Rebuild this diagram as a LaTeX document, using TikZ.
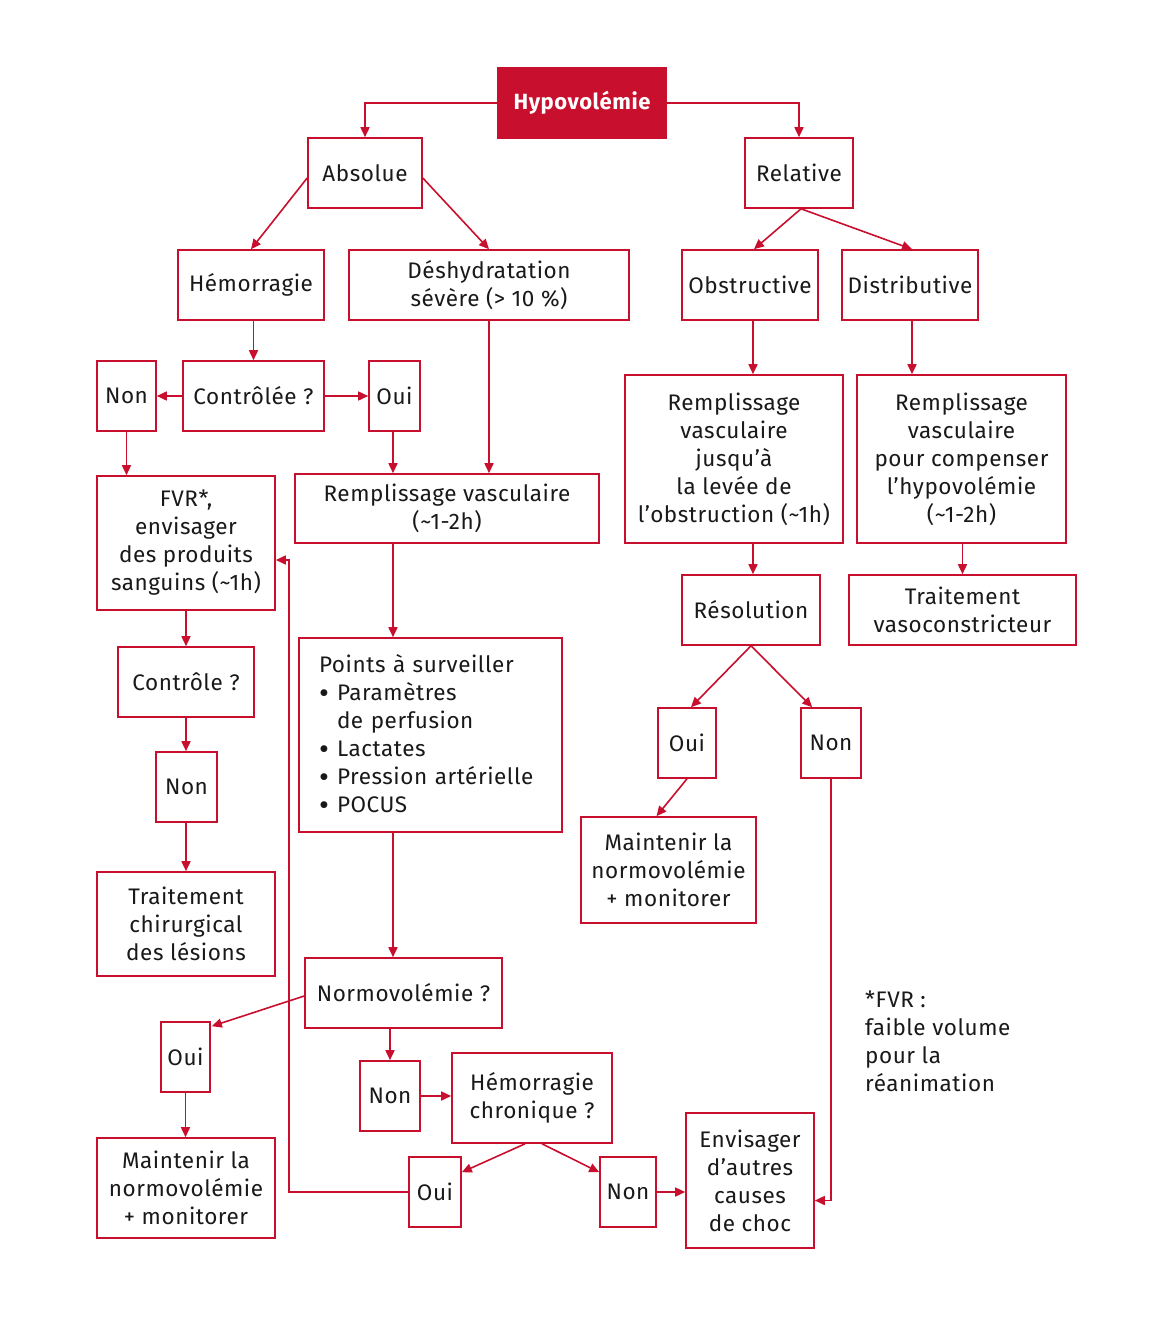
\documentclass[tikz,border=0pt]{standalone}
\usepackage{fontspec}
\usepackage{graphicx}
\setmainfont{Fira Sans}[LetterSpace=2.5]
\usetikzlibrary{arrows.meta,calc}
\definecolor{dred}{RGB}{200,16,46}
\definecolor{txt}{RGB}{25,25,25}
\newcommand\mybul{\makebox[18pt][l]{\raisebox{-2.2pt}{\scalebox{1.35}{\textbullet}}}}
\begin{document}
\begin{tikzpicture}[x=1pt,y=-1pt,
  every node/.style={font=\fontsize{22.5}{28}\selectfont, text=txt},
  box/.style={draw=dred, line width=1.6pt, fill=white, align=center, inner sep=0pt},
  arr/.style={draw=dred, line width=1.6pt, -{Triangle[length=10pt,width=9pt]}},
  ln/.style={draw=dred, line width=1.6pt}]
\useasboundingbox[fill=white] (0,0) rectangle (1158,1320);
\newcommand\bx[6]{\node[box, minimum width=#4, minimum height=#5] (#1) at (#2,#3) {#6};}
% boxes
\node[box, fill=dred, minimum width=168, minimum height=70, text=white, font=\fontsize{22}{28}\selectfont\bfseries] (hypo) at (582,103) {Hypovolémie};
\bx{abs}{365}{173}{114}{70}{Absolue}
\bx{rel}{799}{173}{108}{70}{Relative}
\bx{hem}{251}{285}{146}{70}{Hémorragie}
\bx{desh}{489}{285}{280}{70}{Déshydratation\\sévère (> 10 \%)}
\bx{obs}{750}{285}{136}{70}{Obstructive}
\bx{dist}{910}{285}{136}{70}{Distributive}
\bx{non1}{126.5}{396}{59}{70}{Non}
\bx{ctrl}{253.5}{396}{141}{70}{Contrôlée ?}
\bx{oui1}{394.5}{396}{51}{70}{Oui}
\bx{fvr}{186}{543}{178}{134}{FVR*,\\envisager\\des produits\\sanguins (\textasciitilde1h)}
\bx{remp}{447}{508.5}{304}{69}{Remplissage vasculaire\\(\textasciitilde1-2h)}
\bx{rempo}{734}{459}{218}{168}{Remplissage\\vasculaire\\jusqu’à\\la levée de\\l’obstruction (\textasciitilde1h)}
\bx{rempc}{961.5}{459}{209}{168}{Remplissage\\vasculaire\\pour compenser\\l’hypovolémie\\(\textasciitilde1-2h)}
\bx{reso}{751}{610}{138}{70}{Résolution}
\bx{vaso}{962.5}{610}{227}{70}{Traitement\\vasoconstricteur}
\bx{ctrl2}{186}{682}{136}{70}{Contrôle ?}
\node[box, minimum width=263, minimum height=194, align=left, text width=223, inner xsep=20pt] (points) at (430.5,735) {Points à surveiller\\\mybul Paramètres\\\hspace*{18pt}de perfusion\\\mybul Lactates\\\mybul Pression artérielle\\\mybul POCUS};
\bx{oui2}{687}{743}{58}{70}{Oui}
\bx{non2}{831}{743}{60}{70}{Non}
\bx{non3}{186.5}{787}{61}{70}{Non}
\bx{maint1}{668.5}{870}{175}{106}{Maintenir la\\normovolémie\\+ monitorer}
\bx{chir}{186}{924}{178}{104}{Traitement\\chirurgical\\des lésions}
\bx{normo}{403.5}{993}{197}{70}{Normovolémie ?}
\bx{oui3}{185.5}{1057}{49}{70}{Oui}
\bx{non4}{390}{1096}{60}{70}{Non}
\bx{hemc}{532}{1098}{160}{90}{Hémorragie\\chronique ?}
\bx{maint2}{186}{1188}{178}{100}{Maintenir la\\normovolémie\\+ monitorer}
\bx{oui4}{435}{1192}{52}{70}{Oui}
\bx{non5}{628}{1192}{56}{70}{Non}
\bx{env}{750}{1180.5}{128}{135}{Envisager\\d’autres\\causes\\de choc}
\node[anchor=north west, align=left, inner sep=0pt] (foot) at (865,991) {*FVR :\\faible volume\\pour la\\réanimation};
% connectors
\draw[arr] (hypo.west) -| (abs.north);
\draw[arr] (hypo.east) -| (rel.north);
\draw[arr] ($(abs.west)+(0,5)$) -- (hem.north);
\draw[arr] ($(abs.east)+(0,5)$) -- (desh.north);
\draw[arr] ($(rel.south)+(2,0)$) -- ($(obs.north)+(4,0)$);
\draw[arr] ($(rel.south)+(2,0)$) -- ($(dist.north)+(2,0)$);
\draw[arr] (ctrl.north |- hem.south) -- (ctrl.north);
\draw[arr] (ctrl.west) -- (non1.east);
\draw[arr] (ctrl.east) -- (oui1.west);
\draw[arr] (non1.south) -- (non1.south |- fvr.north);
\draw[arr] ($(oui1.south)+(-1.5,0)$) -- ($(oui1.south |- remp.north)+(-1.5,0)$);
\draw[arr] (desh.south) -- (desh.south |- remp.north);
\draw[arr] ($(obs.south)+(3,0)$) -- ($(obs.south |- rempo.north)+(3,0)$);
\draw[arr] ($(dist.south)+(2,0)$) -- ($(dist.south |- rempc.north)+(2,0)$);
\draw[arr] ($(reso.north |- rempo.south)+(2,0)$) -- ($(reso.north)+(2,0)$);
\draw[arr] (vaso.north |- rempc.south) -- (vaso.north);
\draw[arr] (fvr.south) -- (ctrl2.north);
\draw[arr] (ctrl2.south) -- (ctrl2.south |- non3.north);
\draw[arr] (ctrl2.south |- non3.south) -- (chir.north);
\draw[arr] ($(oui1.south |- remp.south)+(-1.5,0)$) -- ($(oui1.south |- points.north)+(-1.5,0)$);
\draw[arr] ($(oui1.south |- points.south)+(-1.5,0)$) -- ($(oui1.south |- normo.north)+(-1.5,0)$);
\draw[arr] (reso.south) -- ($(oui2.north)+(4,0)$);
\draw[arr] (reso.south) -- ($(non2.north west)+(12,0)$);
\draw[arr] (oui2.south) -- ($(maint1.north)+(-12,0)$);
\draw[arr] (non2.south) |- ($(env.east)+(0,20)$);
\draw[arr] ($(normo.west)+(0,3)$) -- ($(oui3.north east)+(1,5)$);
\draw[arr] (oui3.south) -- (oui3.south |- maint2.north);
\draw[arr] (non4.north |- normo.south) -- (non4.north);
\draw[arr] (non4.east) -- (non4.east -| hemc.west);
\draw[arr] ($(hemc.south)+(-7,0)$) -- ($(oui4.north east)+(0,16)$);
\draw[arr] ($(hemc.south)+(10,0)$) -- ($(non5.north west)+(0,16)$);
\draw[arr] (oui4.west) -- ++(-119,0) |- ($(fvr.east)+(0,17)$);
\draw[arr] (non5.east) -- (non5.east -| env.west);
\end{tikzpicture}
\end{document}
